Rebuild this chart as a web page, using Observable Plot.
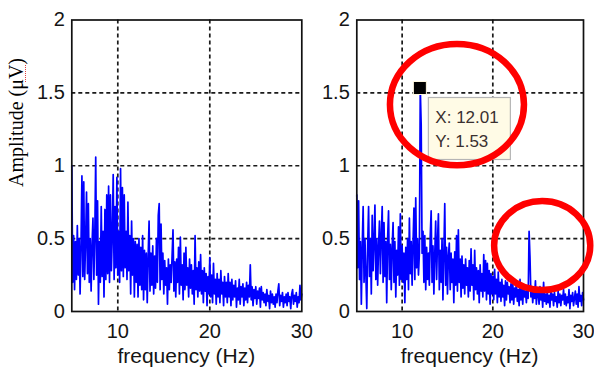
<!DOCTYPE html>
<html>
<head>
<meta charset="utf-8">
<script src="https://cdn.jsdelivr.net/npm/d3@7"></script>
<script src="https://cdn.jsdelivr.net/npm/@observablehq/plot@0.6"></script>
<style>
  html, body { margin: 0; padding: 0; background: #fff; overflow: hidden; }
  #wrap { position: relative; width: 594px; height: 372px; overflow: hidden; }
  #wrap svg { position: absolute; top: 0; }
</style>
</head>
<body>
<div id="wrap"></div>
<script>
// ---- data (frequency grid: 5 Hz .. 30 Hz, 0.1 Hz bins) ----
const freqStart = 5;
const freqStep = 0.1;

const leftAmp = [
  1.00, .20, .52, .15, .48, .22, .59, .25, .50, .12,
  .45, .93, .24, .89, .22, .48, .82, .26, .74, .20,
  .50, .14, .46, .64, .22, .52, 1.06, .25, .76, .05,
  .48, .20, .72, .24, .55, .10, .70, .22, .80, .26,
  .86, .20, .80, .28, .52, .94, .22, .72, .30, .92,
  .25, .55, .20, .98, .28, .85, .24, .80, .30, .55,
  .22, .75, .28, .52, .12, .62, .25, .50, .10, .48,
  .20, .46, .10, .50, .18, .44, .15, .52, .08, .42,
  .15, .40, .06, .38, .62, .14, .40, .18, .45, .12,
  .38, .16, .50, .20, .66, .74, .15, .60, .22, .40,
  .12, .35, .18, .30, .05, .36, .15, .32, .20, .38,
  .56, .14, .34, .10, .36, .20, .44, .12, .51, .18,
  .32, .08, .40, .15, .44, .18, .30, .10, .36, .16,
  .32, .12, .28, .05, .52, .15, .30, .10, .34, .14,
  .39, .12, .28, .06, .30, .14, .26, .04, .24, .12,
  .37, .10, .25, .06, .33, .12, .22, .05, .26, .10,
  .22, .06, .28, .12, .20, .04, .24, .10, .20, .06,
  .26, .10, .20, .04, .22, .08, .18, .10, .21, .03,
  .16, .08, .22, .05, .17, .10, .19, .04, .16, .08,
  .20, .06, .18, .10, .32, .08, .17, .04, .15, .09,
  .17, .05, .14, .09, .16, .03, .17, .08, .13, .06,
  .12, .04, .15, .07, .11, .02, .14, .06, .12, .05,
  .10, .03, .12, .06, .14, .19, .04, .11, .07, .13,
  .03, .10, .06, .12, .04, .13, .07, .10, .02, .12,
  .15, .05, .11, .07, .13, .03, .10, .06, .18, .08,
  .12
];

const rightAmp = [
  .80, .30, .76, .22, .48, .05, .45, .72, .20, .50,
  .25, .02, .46, .72, .24, .50, .12, .66, .28, .48,
  .73, .22, .50, .18, .45, .62, .26, .52, .72, .20,
  .61, .24, .48, .06, .50, .69, .22, .46, .15, .44,
  .61, .20, .48, .10, .42, .25, .58, .18, .67, .22,
  .45, .20, .40, .06, .44, .22, .50, .15, .64, .26,
  .48, .18, .46, .71, .22, .78, .30, .50, .25, .40,
  1.53, 1.28, .40, .55, .20, .52, .15, .44, .22, .40,
  .18, .52, .69, .20, .45, .12, .40, .62, .22, .48,
  .67, .15, .42, .20, .50, .08, .40, .74, .18, .44,
  .12, .38, .47, .15, .40, .20, .36, .06, .41, .18,
  .52, .14, .56, .20, .36, .10, .38, .16, .32, .12,
  .36, .18, .30, .10, .35, .14, .43, .18, .32, .08,
  .42, .15, .30, .12, .28, .06, .32, .14, .26, .10,
  .39, .14, .35, .08, .33, .12, .28, .05, .26, .12,
  .24, .08, .29, .12, .22, .06, .27, .10, .20, .07,
  .22, .10, .18, .04, .21, .08, .20, .12, .17, .06,
  .19, .08, .20, .05, .16, .10, .20, .07, .15, .04,
  .22, .08, .16, .05, .18, .10, .14, .06, .17, .09,
  .55, .37, .10, .17, .06, .14, .09, .21, .05, .15,
  .12, .05, .17, .08, .14, .03, .20, .07, .12, .05,
  .14, .06, .11, .03, .15, .08, .12, .04, .13, .07,
  .10, .03, .14, .06, .12, .04, .11, .08, .15, .05,
  .12, .04, .10, .06, .15, .02, .11, .07, .13, .04,
  .09, .14, .05, .12, .03, .17, .07, .11, .04, .13,
  .08
];

const xTicks = [10, 20, 30];
const yTicks = [0, 0.5, 1, 1.5, 2];
const xGrid = [10, 20];
const yGrid = [0.5, 1, 1.5];
const xLabel = "frequency (Hz)";
const yLabel = "Amplitude (μV)";

// datatip on the right panel
const tipX = 12.01;
const tipY = 1.53;
const tipLines = ["X: 12.01", "Y: 1.53"];

// red highlight rings (data units: centre f, v and radii)
const ringF = [16.1, 25.5];
const ringV = [1.416, 0.449];
const ringRF = [7.39, 5.3];
const ringRV = [0.416, 0.305];

// ---- drawing ----
const toRows = arr => arr.map((v, i) => ({f: freqStart + i * freqStep, v}));
const FONT = "'Liberation Sans', Arial, Helvetica, sans-serif";

function panel(values, width, marginLeft, marginRight) {
  return Plot.plot({
    width, height: 372,
    marginLeft, marginRight, marginTop: 19.5, marginBottom: 61,
    style: {background: "transparent", fontFamily: FONT, fontSize: "20px", color: "#151515", overflow: "visible"},
    x: {domain: [5, 30], ticks: xTicks, tickSize: 0, tickPadding: 12, label: null},
    y: {domain: [0, 2], ticks: yTicks, tickSize: 0, tickPadding: 7, label: null, tickFormat: d => String(d)},
    marks: [
      Plot.ruleX(xGrid, {stroke: "#1a1a1a", strokeWidth: 1.7, strokeDasharray: "4,3"}),
      Plot.ruleY(yGrid, {stroke: "#1a1a1a", strokeWidth: 1.7, strokeDasharray: "4,3"}),
      Plot.line(toRows(values), {x: "f", y: "v", stroke: "#0000ff", strokeWidth: 1.7}),
      Plot.frame({stroke: "#111", strokeWidth: 1.7})
    ]
  });
}

const wrap = document.getElementById("wrap");

const left = panel(leftAmp, 310, 71.3, 8.7);
left.style.left = "0px";
wrap.appendChild(left);

const right = panel(rightAmp, 294, 56.3, 11);
right.style.left = "300px";
wrap.appendChild(right);

function addXLabel(svg) {
  const xs = svg.scale("x");
  const cx = (xs.range[0] + xs.range[1]) / 2;
  d3.select(svg).append("text")
    .attr("x", cx).attr("y", 363)
    .attr("text-anchor", "middle")
    .attr("font-family", FONT).attr("font-size", 21).attr("fill", "#151515")
    .text(xLabel);
}
addXLabel(left);
addXLabel(right);

// y label (serif) on the left panel
const ly = d3.select(left).append("g").attr("transform", "translate(22.5,122.5) rotate(-90)");
ly.append("text")
  .attr("text-anchor", "middle")
  .attr("font-family", "'Liberation Serif', 'Times New Roman', serif")
  .attr("font-size", 20).attr("fill", "#000")
  .text(yLabel);
// spell-check squiggle under "μV"
d3.select(left).append("line")
  .attr("x1", 25.5).attr("x2", 25.5).attr("y1", 65).attr("y2", 82)
  .attr("stroke", "#e04040").attr("stroke-width", 1).attr("stroke-dasharray", "1,1");

// annotations on right panel
{
  const xs = right.scale("x"), ys = right.scale("y");
  const g = d3.select(right).append("g").attr("text-anchor", "start");
  const px = xs.apply(tipX), py = ys.apply(tipY);
  // datatip box
  g.append("rect")
    .attr("x", px + 8.5).attr("y", py + 9.5)
    .attr("width", 82).attr("height", 62)
    .attr("fill", "#fffbe6").attr("stroke", "#b5b5b5").attr("stroke-width", 1.2);
  tipLines.forEach((t, i) => {
    g.append("text")
      .attr("x", px + 15.5).attr("y", py + 34.5 + i * 24)
      .attr("text-anchor", "start")
      .attr("font-family", FONT).attr("font-size", 17).attr("fill", "#3a3030")
      .text(t);
  });
  // marker
  g.append("rect")
    .attr("x", px - 6.5).attr("y", py - 6.5)
    .attr("width", 13).attr("height", 13)
    .attr("fill", "#000").attr("stroke", "#fff8e0").attr("stroke-width", 1);
  // red rings
  ringF.forEach((f, i) => {
    const cx = xs.apply(f), cy = ys.apply(ringV[i]);
    const rx = xs.apply(f + ringRF[i]) - cx;
    const ry = cy - ys.apply(ringV[i] + ringRV[i]);
    g.append("ellipse")
      .attr("cx", cx).attr("cy", cy).attr("rx", rx).attr("ry", ry)
      .attr("fill", "none").attr("stroke", "#ff0000").attr("stroke-width", 6.5);
  });
}
</script>
</body>
</html>
